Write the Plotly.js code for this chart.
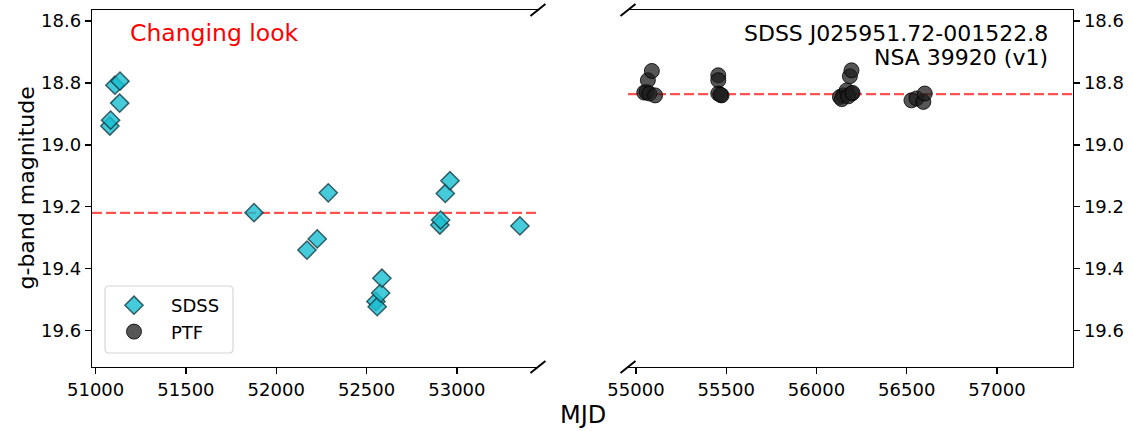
<!DOCTYPE html>
<html>
<head>
<meta charset="utf-8">
<script src="https://cdn.plot.ly/plotly-3.0.1.min.js"></script>
<style>
  html, body { margin: 0; padding: 0; background: #fff; }
  #plot { width: 1133px; height: 431px; }
</style>
</head>
<body>
<div id="plot"></div>
<script>
// SDSS g-band photometry (MJD, magnitude)
const sdssMJD = [51079, 51083, 51107, 51133, 51135, 51877, 52170, 52227, 52288,
                 52552, 52559, 52578, 52585, 52906, 52910, 52936, 52962, 53349];
const sdssMag = [18.939, 18.920, 18.807, 18.865, 18.794, 19.219, 19.340, 19.304, 19.155,
                 19.506, 19.523, 19.479, 19.431, 19.259, 19.243, 19.157, 19.116, 19.262];

// PTF g-band photometry (MJD, magnitude)
const ptfMJD = [55046, 55059, 55066, 55074, 55088, 55106,
                55456, 55456, 55456, 55474, 55468,
                56130, 56148, 56167, 56185, 56194, 56194, 56140, 56176, 56200,
                56526, 56554, 56592, 56600];
const ptfMag = [18.831, 18.829, 18.791, 18.834, 18.761, 18.840,
                18.775, 18.791, 18.834, 18.840, 18.838,
                18.845, 18.840, 18.824, 18.778, 18.759, 18.834, 18.852, 18.843, 18.832,
                18.856, 18.850, 18.861, 18.834];

// Mean magnitude of each survey
const sdssMean = 19.22;
const ptfMean = 18.836;

// Axis ranges and ticks
const magRange = [19.718, 18.564];
const leftMJDRange = [50980, 53449];
const rightMJDRange = [54956, 57421];
const magTicks = [18.6, 18.8, 19.0, 19.2, 19.4, 19.6];
const leftMJDTicks = [51000, 51500, 52000, 52500, 53000];
const rightMJDTicks = [55000, 55500, 56000, 56500, 57000];

const objectName = 'SDSS J025951.72-001522.8';
const catalogName = 'NSA 39920 (v1)';
const labelText = 'Changing look';

const FONT = 'DejaVu Sans, sans-serif';

const traces = [
  {
    x: sdssMJD, y: sdssMag, xaxis: 'x', yaxis: 'y',
    type: 'scatter', mode: 'markers', name: 'SDSS',
    marker: { symbol: 'diamond', size: 14, color: 'rgba(23,190,207,0.8)',
              line: { color: 'rgba(20,60,70,0.8)', width: 1.5 } }
  },
  {
    x: ptfMJD, y: ptfMag, xaxis: 'x2', yaxis: 'y2',
    type: 'scatter', mode: 'markers', name: 'PTF',
    marker: { symbol: 'circle', size: 15, color: 'rgba(30,30,30,0.75)',
              line: { color: 'rgba(0,0,0,0.8)', width: 1 } }
  }
];

// Paper geometry (pixels -> paper fractions)
const plotW = 1133 - 92 - 60;
const plotH = 431 - 10 - 64;
const px = v => (v - 92) / plotW;
const py = v => (367 - v) / plotH;

// Broken-axis marks at the inner corners of both panels
const leftEnd = 0.4546, rightStart = 0.5464;
const mdx = 7.5 / plotW, mdy = 6 / plotH;
const breakMarks = [];
[leftEnd, rightStart].forEach(xc => {
  [0, 1].forEach(yc => {
    breakMarks.push({ type: 'line', xref: 'paper', yref: 'paper',
      x0: xc - mdx, x1: xc + mdx, y0: yc - mdy, y1: yc + mdy,
      line: { color: 'black', width: 2 } });
  });
});

// Rounded legend frame
function roundRect(x0, y0, x1, y1, r) {
  const rx = r / plotW, ry = r / plotH;
  const X0 = px(x0), X1 = px(x1), Yt = py(y0), Yb = py(y1);
  return `M ${X0 + rx},${Yt} L ${X1 - rx},${Yt} Q ${X1},${Yt} ${X1},${Yt - ry} ` +
         `L ${X1},${Yb + ry} Q ${X1},${Yb} ${X1 - rx},${Yb} L ${X0 + rx},${Yb} ` +
         `Q ${X0},${Yb} ${X0},${Yb + ry} L ${X0},${Yt - ry} Q ${X0},${Yt} ${X0 + rx},${Yt} Z`;
}
const legendFrame = { type: 'path', layer: 'below', xref: 'paper', yref: 'paper',
  path: roundRect(105, 286, 233, 353, 4), fillcolor: 'white',
  line: { color: '#d6d6d6', width: 1.2 } };

const axisCommon = {
  showgrid: false, zeroline: false, showline: true, linecolor: 'black', linewidth: 1.3,
  ticks: 'outside', ticklen: 6, tickwidth: 1.3, tickcolor: 'black',
  tickfont: { family: FONT, size: 18, color: 'black' }
};

const layout = {
  width: 1133, height: 431,
  margin: { l: 92, r: 60, t: 10, b: 64 },
  paper_bgcolor: 'white', plot_bgcolor: 'rgba(0,0,0,0)',
  font: { family: FONT, color: 'black' },
  showlegend: true,
  legend: {
    x: px(97), y: py(287), xanchor: 'left', yanchor: 'top',
    itemwidth: 64,
    bgcolor: 'rgba(0,0,0,0)', borderwidth: 0,
    font: { family: FONT, size: 18, color: 'black' }
  },
  xaxis: Object.assign({}, axisCommon, {
    domain: [0, leftEnd], range: leftMJDRange, mirror: true,
    tickvals: leftMJDTicks, ticktext: leftMJDTicks.map(String), anchor: 'y'
  }),
  xaxis2: Object.assign({}, axisCommon, {
    domain: [rightStart, 1], range: rightMJDRange, mirror: true,
    tickvals: rightMJDTicks, ticktext: rightMJDTicks.map(String), anchor: 'y2'
  }),
  yaxis: Object.assign({}, axisCommon, {
    domain: [0, 1], range: magRange, anchor: 'x', side: 'left',
    tickvals: magTicks, ticktext: magTicks.map(v => v.toFixed(1))
  }),
  yaxis2: Object.assign({}, axisCommon, {
    domain: [0, 1], range: magRange, anchor: 'x2', side: 'right',
    tickvals: magTicks, ticktext: magTicks.map(v => v.toFixed(1))
  }),
  shapes: [
    legendFrame,
    { type: 'line', layer: 'below', xref: 'x domain', yref: 'y', x0: 0, x1: 1,
      y0: sdssMean, y1: sdssMean,
      line: { color: 'rgba(255,40,40,0.8)', width: 2.2, dash: '10px,4px' } },
    { type: 'line', layer: 'below', xref: 'x2 domain', yref: 'y2', x0: 0, x1: 1,
      y0: ptfMean, y1: ptfMean,
      line: { color: 'rgba(255,40,40,0.8)', width: 2.2, dash: '10px,4px' } }
  ].concat(breakMarks),
  annotations: [
    { text: labelText, xref: 'paper', yref: 'paper',
      x: px(128), y: py(33), xanchor: 'left', yanchor: 'middle',
      showarrow: false, font: { family: FONT, size: 23.5, color: 'red' } },
    { text: objectName, xref: 'paper', yref: 'paper',
      x: px(1050), y: py(33), xanchor: 'right', yanchor: 'middle',
      showarrow: false, font: { family: FONT, size: 22, color: 'black' } },
    { text: catalogName, xref: 'paper', yref: 'paper',
      x: px(1050), y: py(58), xanchor: 'right', yanchor: 'middle',
      showarrow: false, font: { family: FONT, size: 22, color: 'black' } },
    { text: 'MJD', xref: 'paper', yref: 'paper',
      x: px(583), y: py(415), xanchor: 'center', yanchor: 'middle',
      showarrow: false, font: { family: FONT, size: 24, color: 'black' } },
    { text: 'g-band magnitude', xref: 'paper', yref: 'paper', textangle: -90,
      x: px(26), y: 0.5, xanchor: 'center', yanchor: 'middle',
      showarrow: false, font: { family: FONT, size: 22, color: 'black' } }
  ]
};

Plotly.newPlot('plot', traces, layout, { displayModeBar: false, staticPlot: true });
</script>
</body>
</html>
